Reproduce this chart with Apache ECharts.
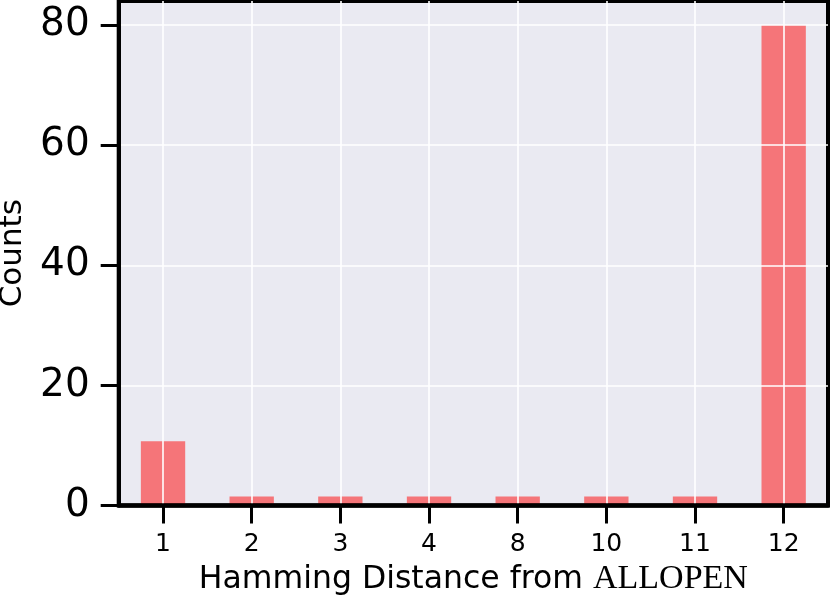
<!DOCTYPE html>
<html>
<head>
<meta charset="utf-8">
<script src="https://cdn.jsdelivr.net/npm/echarts@6/dist/echarts.min.js"></script>
<style>html,body{margin:0;padding:0;background:#fff;}#c{width:830px;height:600px;}</style>
</head>
<body>
<div id="c"></div>
<script>
const categories = ['1', '2', '3', '4', '8', '10', '11', '12'];
const counts = [10.7, 1.5, 1.5, 1.5, 1.5, 1.5, 1.5, 80];
const yTicks = [0, 20, 40, 60, 80];
const yMax = 84;

const chart = echarts.init(document.getElementById('c'), null, {renderer: 'canvas'});
const font = 'DejaVu Sans';
chart.setOption({
  animation: false,
  backgroundColor: '#ffffff',
  grid: {
    left: 118.7, right: 2, top: 1, bottom: 94.5,
    outerBoundsMode: 'none',
    containLabel: false,
    show: true, backgroundColor: '#EAEAF2',
    borderColor: '#000', borderWidth: 4
  },
  xAxis: {
    type: 'category',
    data: categories,
    z: 5,
    axisLine: {show: true, lineStyle: {color: '#000', width: 4.5}},
    axisTick: {show: true, alignWithLabel: true, length: 18, lineStyle: {color: '#000', width: 3}},
    axisLabel: {color: '#000', fontFamily: font, fontSize: 25, margin: 26},
    splitLine: {show: true, alignWithLabel: true, lineStyle: {color: '#ffffff', width: 1.6}},
    name: '{a|Hamming Distance from }{b|ALLOPEN}',
    nameLocation: 'middle',
    nameGap: 57,
    nameTextStyle: {
      rich: {
        a: {fontFamily: font, fontSize: 31.5, color: '#000'},
        b: {fontFamily: 'Liberation Serif', fontSize: 34, color: '#000'}
      }
    }
  },
  yAxis: {
    type: 'value',
    min: 0, max: yMax, interval: 20,
    z: 5,
    axisLine: {show: true, lineStyle: {color: '#000', width: 4}},
    axisTick: {show: true, length: 18, customValues: yTicks, lineStyle: {color: '#000', width: 3}},
    axisLabel: {color: '#000', fontFamily: font, fontSize: 39, margin: 29, customValues: yTicks},
    splitLine: {show: true, lineStyle: {color: '#ffffff', width: 1.6}},
    name: 'Counts',
    nameLocation: 'middle',
    nameGap: 90,
    nameTextStyle: {fontFamily: font, fontSize: 31, color: '#000'}
  },
  series: [{
    type: 'bar',
    data: counts,
    barWidth: '50%',
    itemStyle: {color: 'rgba(255,0,0,0.5)'}
  }]
});
</script>
</body>
</html>
